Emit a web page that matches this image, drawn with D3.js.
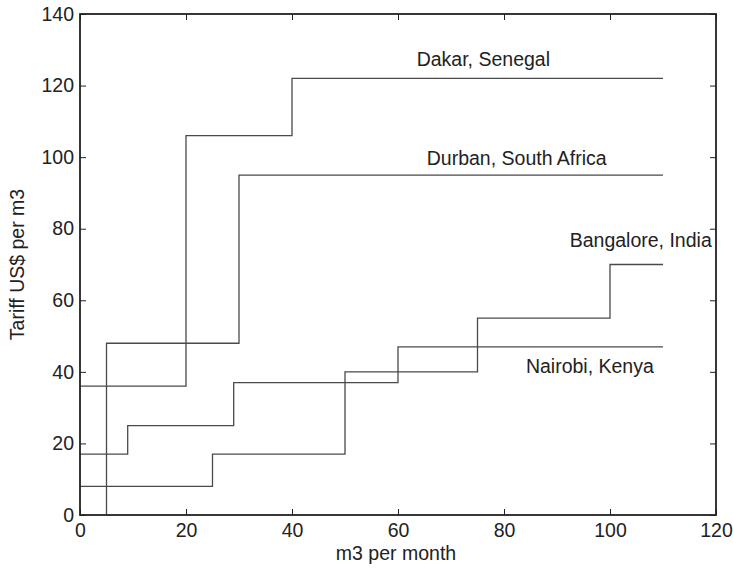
<!DOCTYPE html>
<html><head><meta charset="utf-8">
<script src="https://cdn.jsdelivr.net/npm/d3@7"></script>
<style>body{margin:0;background:#fff}svg{display:block}text{font-family:"Liberation Sans",Arial,sans-serif}</style>
</head><body>
<svg id="c" width="733" height="569"></svg>
<script>
const xTicks = [0,20,40,60,80,100,120];
const yTicks = [0,20,40,60,80,100,120,140];
// step series: [x, y] breakpoints; value holds from x until next x
const dakarX = [0,20,40,110];
const dakarY = [36,106,122,122];
const durbanX = [5,5,30,110];
const durbanY = [0,48,95,95];
const nairobiX = [0,9,29,60,110];
const nairobiY = [17,25,37,47,47];
const bangaloreX = [0,25,50,75,100,110];
const bangaloreY = [8,17,40,55,70,70];
const labels = ["Dakar, Senegal","Durban, South Africa","Bangalore, India","Nairobi, Kenya"];
const labelPos = [[76.1,125.6],[82.4,97.8],[105.8,75],[96.2,39.7]];

const svg = d3.select("#c");
const m = {l:80, r:716, t:14, b:515};
const x = d3.scaleLinear().domain([0,120]).range([m.l,m.r]);
const y = d3.scaleLinear().domain([0,140]).range([m.b,m.t]);
const fs = 19.5;

const series = [[dakarX,dakarY],[durbanX,durbanY],[nairobiX,nairobiY],[bangaloreX,bangaloreY]];
const line = d3.line().x(d=>x(d[0])).y(d=>y(d[1])).curve(d3.curveStepAfter);
series.forEach(([xs,ys])=>{
  const pts = xs.map((v,i)=>[v,ys[i]]);
  svg.append("path").attr("d",line(pts)).attr("fill","none").attr("stroke","#4a4a4a").attr("stroke-width",1.3);
});

// axes
const ac = "#222";
svg.append("g").attr("transform",`translate(0,${m.b})`).call(d3.axisBottom(x).tickValues(xTicks).tickSizeInner(-6).tickSizeOuter(0).tickPadding(8))
  .call(g=>{g.select(".domain").remove();g.selectAll("line").attr("stroke",ac);g.selectAll("text").attr("font-size",fs).attr("fill","#222");});
svg.append("g").attr("transform",`translate(0,${m.t})`).call(d3.axisTop(x).tickValues(xTicks).tickSizeInner(-6).tickSizeOuter(0).tickFormat(""))
  .call(g=>{g.select(".domain").remove();g.selectAll("line").attr("stroke",ac);});
svg.append("g").attr("transform",`translate(${m.l},0)`).call(d3.axisLeft(y).tickValues(yTicks).tickSizeInner(-6).tickSizeOuter(0).tickPadding(6))
  .call(g=>{g.select(".domain").remove();g.selectAll("line").attr("stroke",ac);g.selectAll("text").attr("font-size",fs).attr("fill","#222");});
svg.append("g").attr("transform",`translate(${m.r},0)`).call(d3.axisRight(y).tickValues(yTicks).tickSizeInner(-6).tickSizeOuter(0).tickFormat(""))
  .call(g=>{g.select(".domain").remove();g.selectAll("line").attr("stroke",ac);});
svg.append("rect").attr("x",m.l).attr("y",m.t).attr("width",m.r-m.l).attr("height",m.b-m.t)
  .attr("fill","none").attr("stroke",ac).attr("stroke-width",1.8);

labels.forEach((t,i)=>{
  svg.append("text").attr("x",x(labelPos[i][0])).attr("y",y(labelPos[i][1])).attr("text-anchor","middle")
    .attr("font-size",fs).attr("fill","#222").text(t);
});

svg.append("text").attr("x",396).attr("y",560).attr("text-anchor","middle").attr("font-size",fs).attr("fill","#222").text("m3 per month");
svg.append("text").attr("transform",`translate(24,${(m.t+m.b)/2}) rotate(-90)`).attr("text-anchor","middle").attr("font-size",fs).attr("fill","#222").text("Tariff US$ per m3");
</script>
</body></html>
